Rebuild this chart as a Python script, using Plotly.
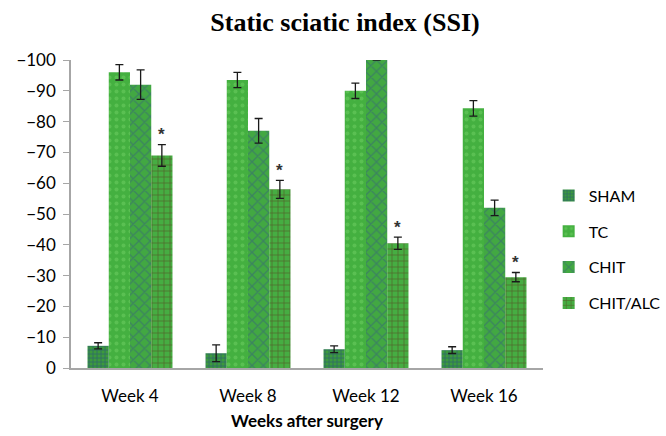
import plotly.graph_objects as go

# Static sciatic index per group, weeks after surgery
weeks = ["Week 4", "Week 8", "Week 12", "Week 16"]
sham = [-7.2, -4.8, -6.1, -5.8]
sham_err = [1.0, 2.7, 1.1, 1.1]
tc = [-96.0, -93.5, -90.0, -84.3]
tc_err = [2.5, 2.5, 2.5, 2.5]
chit = [-92.0, -77.0, -100.0, -52.0]
chit_err = [4.8, 4.0, 0.0, 2.5]
chit_alc = [-69.0, -58.0, -40.5, -29.5]
chit_alc_err = [3.5, 2.9, 2.0, 1.5]
y_ticks = [0, -10, -20, -30, -40, -50, -60, -70, -80, -90, -100]

series = [
    ("SHAM", sham, sham_err, dict(shape="+", fgcolor="#22408f", size=4, solidity=0.4), "#3c9a3c"),
    ("TC", tc, tc_err, dict(shape=".", fgcolor="#6fd064", size=7, solidity=0.25), "#44b040"),
    ("CHIT", chit, chit_err, dict(shape="x", fgcolor="#35607e", size=8, solidity=0.3), "#42a842"),
    ("CHIT/ALC", chit_alc, chit_alc_err, dict(shape="+", fgcolor="#5a3018", size=6, solidity=0.25), "#46ad42"),
]

fig = go.Figure()
for i, (name, vals, errs, pat, col) in enumerate(series):
    fig.add_trace(go.Bar(
        name=name, x=weeks, y=vals,
        legendgroup=name,
        marker=dict(color=col, line=dict(width=0),
                    pattern=dict(fillmode="overlay", **pat)),
        error_y=dict(type="data", array=errs, visible=True,
                     color="#1a1a1a", thickness=1.3, width=4),
    ))

# significance markers above the CHIT/ALC error bars
bar_px = 472 / 4 * 0.72 / 4
for w, v, e in zip(weeks, chit_alc, chit_alc_err):
    fig.add_annotation(x=w, y=v - e, xref="x", yref="y", text="<b>*</b>",
                       showarrow=False, xshift=1.5 * bar_px, yshift=10,
                       yanchor="middle",
                       font=dict(family="Liberation Sans", size=17, color="#333"))

fig.update_layout(
    width=666, height=436,
    margin=dict(l=71, r=123, t=60, b=68, autoexpand=False),
    paper_bgcolor="white", plot_bgcolor="white",
    barmode="group", bargap=0.28, bargroupgap=0,
    title=dict(text="<b>Static sciatic index (SSI)</b>", x=0.518, xanchor="center",
               y=0.95, yanchor="middle",
               font=dict(family="Liberation Serif", size=26, color="black")),
    font=dict(family="Lato", size=16, color="black"),
    legend=dict(x=1.012, xanchor="left", y=0.615, yanchor="top",
                font=dict(family="Lato", size=16, color="black"),
                tracegroupgap=12, itemwidth=30, bgcolor="rgba(0,0,0,0)"),
    showlegend=True,
)
fig.update_xaxes(showline=True, linecolor="#a6a6a6", linewidth=1.5,
                 ticks="", showgrid=False, ticklabelstandoff=12, automargin=False,
                 tickfont=dict(family="Lato", size=17),
                 title=dict(text="<b>Weeks after surgery</b>", standoff=10,
                            font=dict(family="Lato", size=17)))
fig.update_yaxes(range=[0, -100], tickvals=y_ticks, automargin=False,
                 showline=True, linecolor="#a6a6a6", linewidth=1.5,
                 ticks="outside", ticklen=6, tickcolor="#a6a6a6",
                 showgrid=False, zeroline=False,
                 tickfont=dict(family="Lato", size=17), ticklabelstandoff=4)

fig.write_html("out.html")
